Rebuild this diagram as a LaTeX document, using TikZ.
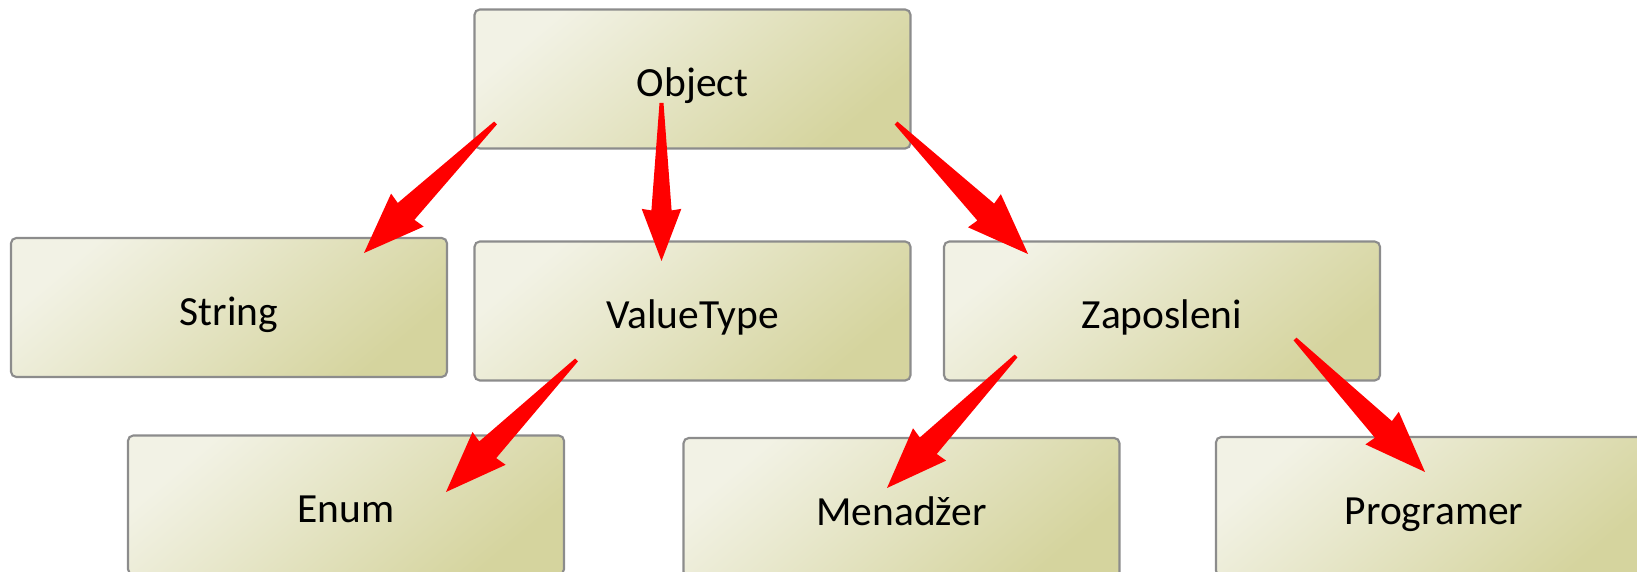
\documentclass[tikz,border=0pt]{standalone}
\usepackage{fontspec}
\setmainfont{Carlito}
\usetikzlibrary{calc}

\definecolor{boxlight}{RGB}{242,242,229}
\definecolor{boxdark}{RGB}{213,212,158}
\definecolor{boxline}{RGB}{140,140,140}
\definecolor{arrowred}{RGB}{255,0,0}

\tikzset{
  classbox/.style={draw=boxline, line width=0.6pt, rounded corners=1.5pt,
    top color=boxlight, bottom color=boxdark, shading angle=40,
    minimum width=4.36cm, minimum height=1.39cm, inner sep=0pt,
    text height=10.2pt, text depth=0.2pt,
    font=\fontsize{11.8}{14}\selectfont}
}

% tapered block arrow: thin tail at #1, head (a third of the length) at #2
\newcommand{\taperarrow}[2]{%
  \coordinate (tapneck) at ($(#2)!0.32!(#1)$);
  \coordinate (tapbarb) at ($(#2)!0.33!(#1)$);
  \fill[arrowred] ($(#1)!0.02cm!90:(#2)$) -- ($(tapneck)!0.2!90:(#2)$)
    -- ($(tapbarb)!0.38!90:(#2)$) -- (#2)
    -- ($(tapbarb)!0.38!-90:(#2)$) -- ($(tapneck)!0.2!-90:(#2)$)
    -- ($(#1)!0.02cm!-90:(#2)$) -- cycle;}

\begin{document}
\begin{tikzpicture}
    \useasboundingbox (0,0) rectangle (16.37,5.72);

    % top level
    \node[classbox] (obj) at (6.925,4.93) {Object};

    % second row
    \node[classbox] (str) at (2.29,2.645) {String};
    \node[classbox] (valtype) at (6.925,2.61) {ValueType};
    \node[classbox] (zap) at (11.62,2.61) {Zaposleni};

    % third row (cut by the page edge)
    \node[classbox] (enum) at (3.46,0.67) {Enum};
    \node[classbox] (menadzer) at (9.015,0.645) {Menadžer};
    \node[classbox] (prog) at (14.34,0.655) {Programer};

    % arrow ends
    \coordinate (objA) at ($(obj.center)+(-1.97,-0.44)$);
    \coordinate (objB) at ($(obj.center)+(-0.31,-0.24)$);
    \coordinate (objC) at ($(obj.center)+(2.035,-0.44)$);
    \coordinate (strIn) at ($(str.center)+(1.35,0.545)$);
    \coordinate (valIn) at ($(valtype.center)+(-0.31,0.50)$);
    \coordinate (valOut) at ($(valtype.center)+(-1.16,-0.49)$);
    \coordinate (zapIn) at ($(zap.center)+(-1.34,0.57)$);
    \coordinate (zapA) at ($(zap.center)+(-1.46,-0.45)$);
    \coordinate (zapB) at ($(zap.center)+(1.33,-0.28)$);
    \coordinate (enumIn) at ($(enum.center)+(1.00,0.13)$);
    \coordinate (menIn) at ($(menadzer.center)+(-0.145,0.195)$);
    \coordinate (progIn) at ($(prog.center)+(-0.09,0.345)$);

    % inheritance arrows
    \taperarrow{objA}{strIn}
    \taperarrow{objB}{valIn}
    \taperarrow{objC}{zapIn}
    \taperarrow{valOut}{enumIn}
    \taperarrow{zapA}{menIn}
    \taperarrow{zapB}{progIn}
\end{tikzpicture}
\end{document}
